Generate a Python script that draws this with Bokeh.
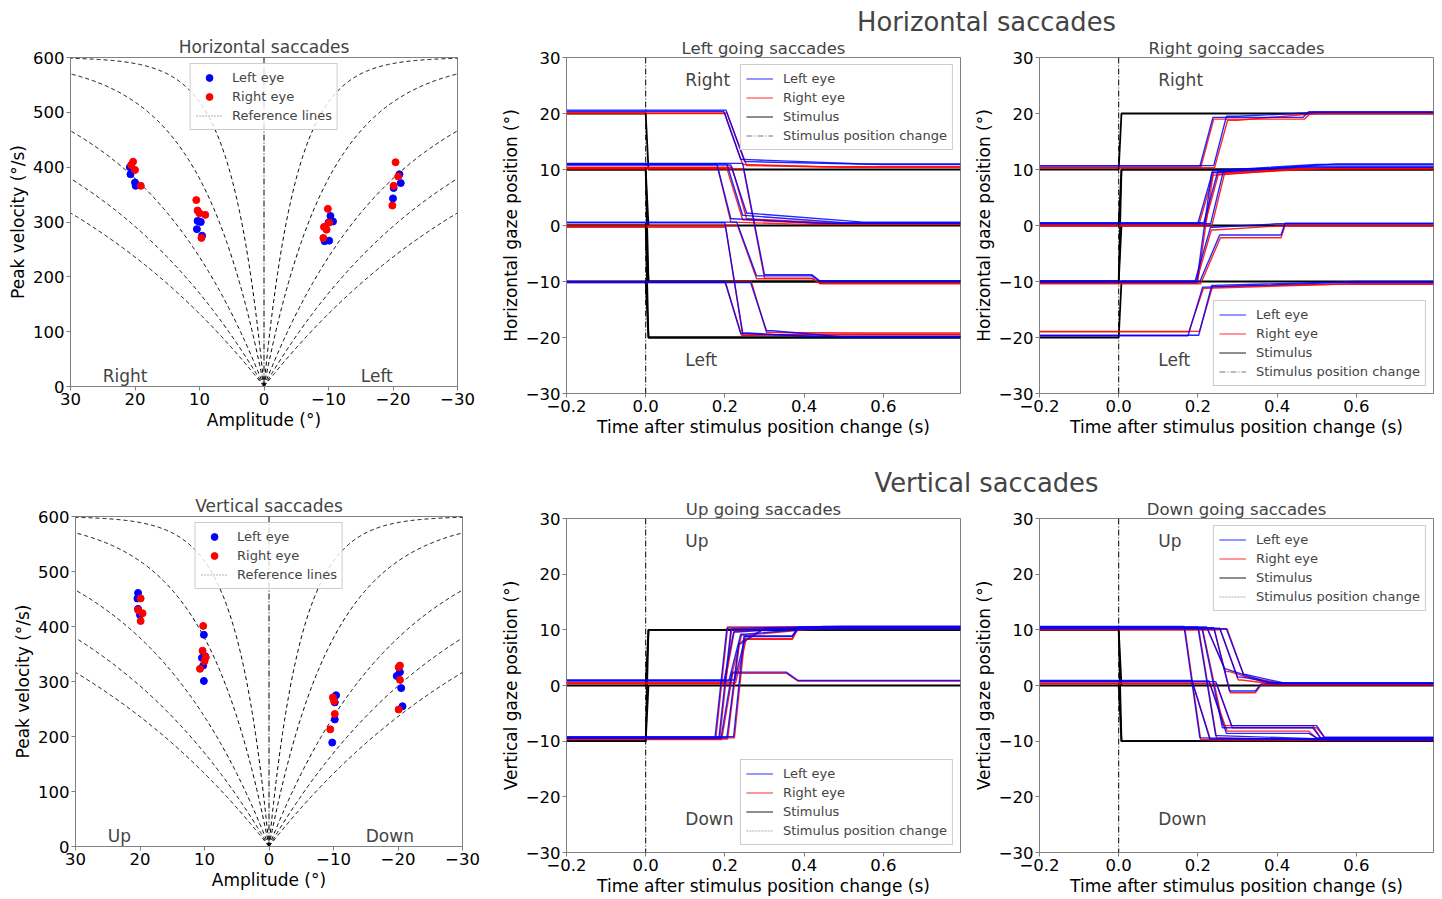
import numpy as np
from bokeh.plotting import figure
from bokeh.layouts import row, column
from bokeh.models import (Range1d, Span, Label, Legend, LegendItem, FixedTicker,
                          CustomJSTickFormatter)
from bokeh.embed import file_html
from bokeh.resources import INLINE

# ---------------------------------------------------------------- data
AMP_TICKS = [30, 20, 10, 0, -10, -20, -30]
VEL_TICKS = [0, 100, 200, 300, 400, 500, 600]
TIME_TICKS = [-0.2, 0.0, 0.2, 0.4, 0.6]
POS_TICKS = [-30, -20, -10, 0, 10, 20, 30]
T_START, T_END = -0.2, 0.795
STIM_CHANGE_T = 0.0
STIM_DONE_T = 0.007

# main-sequence reference lines: Vmax * (1 - exp(-A / tau))
REF_VMAX = 600
REF_TAU = [5, 10, 20, 30, 40]

# Horizontal saccades: amplitude (deg) / peak velocity (deg/s)
H_LEFT_EYE_AMP = [20.8, 20.7, 20.0, 19.9, 10.3, 10.0, 9.6, 10.4, 9.8,
                  -10.3, -10.7, -10.0, -9.4, -10.1, -20.1, -20.0, -21.0, -21.2]
H_LEFT_EYE_VEL = [400, 387, 372, 366, 302, 301, 275, 287, 300,
                  311, 301, 299, 265, 266, 362, 343, 387, 371]
H_RIGHT_EYE_AMP = [20.3, 20.6, 20.0, 19.1, 10.5, 10.3, 10.0, 9.1, 9.7,
                   -9.9, -9.3, -9.7, -10.1, -9.2, -20.4, -20.1, -19.9, -20.8]
H_RIGHT_EYE_VEL = [410, 404, 395, 366, 340, 321, 316, 313, 271,
                   324, 291, 286, 299, 271, 409, 366, 330, 383]

# Vertical saccades
V_LEFT_EYE_AMP = [20.3, 20.4, 20.0, 20.3, 10.1, 10.4, 10.2, 10.1, 9.9,
                  -10.4, -10.2, -10.2, -9.8, -19.8, -20.3, -20.5, -20.7]
V_LEFT_EYE_VEL = [461, 451, 421, 432, 385, 343, 329, 301, 346,
                  275, 262, 231, 189, 310, 317, 288, 255]
V_RIGHT_EYE_AMP = [20.3, 19.9, 19.6, 19.9, 10.2, 10.3, 10.7, 9.8, 10.0,
                   -9.9, -10.1, -10.2, -9.5, -20.1, -20.3, -20.3, -20.1]
V_RIGHT_EYE_VEL = [430, 451, 424, 410, 401, 356, 323, 344, 337,
                   271, 264, 241, 213, 326, 329, 303, 249]

# gaze traces, one tuple per trial:
# (start pos, onset t, landing t, landing pos, hold-until t, settled t, final pos)
LG_LEFT_EYE = [
    (20.4, 0.197, 0.240, 11.8, 0.245, 0.55, 11.0),
    (20.6, 0.203, 0.250, 11.4, 0.260, 0.60, 10.9),
    (10.9, 0.180, 0.215, 1.2, 0.220, 0.45, 0.4),
    (11.0, 0.205, 0.245, 1.8, 0.250, 0.50, 0.5),
    (10.8, 0.215, 0.255, 2.2, 0.260, 0.55, 0.6),
    (11.1, 0.245, 0.300, -8.8, 0.420, 0.44, -9.9),
    (0.5, 0.200, 0.245, -19.2, 0.260, 0.40, -19.8),
    (0.6, 0.230, 0.280, -9.0, 0.420, 0.44, -10.0),
    (-10.0, 0.200, 0.240, -19.3, 0.250, 0.45, -19.8),
    (-10.2, 0.265, 0.305, -18.8, 0.320, 0.50, -19.9),
]
LG_RIGHT_EYE = [
    (20.0, 0.200, 0.245, 10.9, 0.250, 0.45, 10.5),
    (20.1, 0.205, 0.255, 10.7, 0.260, 0.50, 10.4),
    (10.3, 0.182, 0.215, 0.6, 0.220, 0.40, 0.2),
    (10.2, 0.205, 0.245, 1.0, 0.250, 0.45, 0.3),
    (10.4, 0.218, 0.255, 1.2, 0.260, 0.50, 0.3),
    (10.1, 0.247, 0.300, -9.4, 0.420, 0.44, -10.3),
    (-0.3, 0.202, 0.245, -19.6, 0.260, 0.40, -19.4),
    (0.0, 0.232, 0.280, -9.5, 0.420, 0.44, -10.4),
    (-10.2, 0.202, 0.242, -19.6, 0.250, 0.45, -19.5),
    (-10.1, 0.267, 0.305, -19.1, 0.320, 0.55, -19.2),
]
LG_STIM = [(20, 10), (10, 0), (0, -10), (-10, -20), (10, -10), (0, -20)]

RG_LEFT_EYE = [
    (10.6, 0.205, 0.238, 19.3, 0.465, 0.48, 20.3),
    (10.7, 0.240, 0.272, 19.5, 0.300, 0.50, 20.2),
    (0.4, 0.200, 0.238, 9.8, 0.240, 0.50, 10.9),
    (0.5, 0.215, 0.250, 9.6, 0.260, 0.55, 11.0),
    (0.3, 0.232, 0.265, 9.9, 0.270, 0.50, 10.6),
    (-9.9, 0.193, 0.232, -0.3, 0.240, 0.40, 0.3),
    (-10.0, 0.205, 0.255, -1.7, 0.410, 0.42, 0.4),
    (-10.1, 0.197, 0.235, 9.5, 0.240, 0.45, 10.4),
    (-19.7, 0.175, 0.212, -11.0, 0.220, 0.55, -10.2),
    (-19.6, 0.202, 0.235, -10.7, 0.240, 0.60, -10.0),
]
RG_RIGHT_EYE = [
    (10.3, 0.207, 0.240, 19.0, 0.470, 0.485, 20.1),
    (10.3, 0.242, 0.275, 18.8, 0.300, 0.50, 20.0),
    (0.0, 0.202, 0.240, 9.4, 0.250, 0.50, 10.2),
    (0.1, 0.217, 0.252, 9.2, 0.260, 0.55, 10.3),
    (-0.1, 0.235, 0.268, 9.5, 0.280, 0.50, 10.2),
    (-10.3, 0.195, 0.234, -0.8, 0.240, 0.40, -0.1),
    (-10.4, 0.207, 0.257, -2.2, 0.410, 0.42, 0.0),
    (-10.3, 0.199, 0.238, 9.0, 0.250, 0.45, 10.1),
    (-19.0, 0.177, 0.214, -11.2, 0.220, 0.55, -10.5),
    (-18.9, 0.204, 0.237, -10.9, 0.240, 0.60, -10.4),
]
RG_STIM = [(-20, -10), (-10, 0), (0, 10), (10, 20), (-10, 10)]

UG_LEFT_EYE = [
    (-9.4, 0.175, 0.205, 10.3, 0.210, 0.50, 10.6),
    (-9.3, 0.185, 0.215, 10.0, 0.220, 0.50, 10.5),
    (-9.5, 0.190, 0.218, 2.4, 0.355, 0.385, 0.9),
    (-9.4, 0.205, 0.235, 7.5, 0.240, 0.30, 10.2),
    (-9.2, 0.222, 0.248, 8.8, 0.370, 0.385, 10.3),
    (0.9, 0.198, 0.222, 9.6, 0.230, 0.45, 10.6),
    (0.8, 0.210, 0.240, 9.2, 0.250, 0.45, 10.4),
    (1.0, 0.225, 0.252, 8.9, 0.370, 0.385, 10.5),
]
UG_RIGHT_EYE = [
    (-9.6, 0.177, 0.207, 10.5, 0.210, 0.50, 10.6),
    (-9.5, 0.187, 0.217, 10.2, 0.220, 0.50, 10.4),
    (-9.7, 0.192, 0.220, 2.2, 0.355, 0.385, 0.8),
    (-9.6, 0.207, 0.237, 7.8, 0.240, 0.30, 10.3),
    (-9.4, 0.224, 0.250, 8.3, 0.370, 0.385, 10.2),
    (0.4, 0.200, 0.224, 9.8, 0.230, 0.45, 10.5),
    (0.3, 0.212, 0.242, 9.0, 0.250, 0.45, 10.3),
    (0.5, 0.227, 0.254, 8.4, 0.370, 0.385, 10.4),
]
UG_STIM = [(-10, 10), (0, 10), (-10, 0)]

DG_LEFT_EYE = [
    (10.6, 0.165, 0.205, -9.4, 0.210, 0.55, -9.8),
    (10.5, 0.200, 0.245, -9.0, 0.250, 0.55, -9.7),
    (10.4, 0.210, 0.262, -7.6, 0.490, 0.51, -9.4),
    (10.5, 0.222, 0.268, 3.0, 0.270, 0.38, 0.5),
    (10.3, 0.255, 0.300, 1.5, 0.310, 0.40, 0.4),
    (10.2, 0.272, 0.315, 2.0, 0.320, 0.42, 0.4),
    (0.9, 0.185, 0.230, -9.6, 0.240, 0.50, -9.6),
    (0.8, 0.228, 0.272, -8.6, 0.480, 0.50, -9.4),
    (0.7, 0.245, 0.285, -7.2, 0.500, 0.52, -9.3),
    (10.4, 0.240, 0.280, -1.0, 0.345, 0.36, 0.3),
]
DG_RIGHT_EYE = [
    (10.3, 0.167, 0.207, -9.7, 0.210, 0.55, -9.9),
    (10.2, 0.202, 0.247, -9.4, 0.250, 0.55, -9.8),
    (10.1, 0.212, 0.264, -7.2, 0.490, 0.51, -9.5),
    (10.2, 0.224, 0.270, 2.5, 0.280, 0.38, 0.3),
    (10.0, 0.257, 0.302, 1.0, 0.310, 0.40, 0.2),
    (10.1, 0.274, 0.317, 1.6, 0.320, 0.42, 0.3),
    (0.4, 0.187, 0.232, -9.8, 0.240, 0.50, -9.7),
    (0.4, 0.230, 0.274, -8.2, 0.480, 0.50, -9.5),
    (0.3, 0.247, 0.287, -7.6, 0.500, 0.52, -9.4),
    (10.0, 0.242, 0.282, -1.3, 0.345, 0.36, 0.1),
]
DG_STIM = [(10, -10), (10, 0), (0, -10)]

# direction words: (x, y) in data units
MS_WORD_Y = 20
TP_WORD_X, TP_WORD_Y_TOP, TP_WORD_Y_BOT = 0.1, 26, -24

# ---------------------------------------------------------------- style
FONT = "DejaVu Sans"
FS = "16.5px"
LABEL_FS = "17px"
LEG_FS = "13px"
SPINE = "#808080"
BLUE = "#0000ff"
RED = "#ff0000"
NOTHING = np.array([np.nan])   # legend-only renderers draw nothing


def fmt(decimals):
    return CustomJSTickFormatter(
        code="return tick.toFixed(%d).replace('-', '\u2212');" % decimals)


def style(p, xticks, yticks, xdec, ydec, xlabel, ylabel):
    p.xaxis.ticker = FixedTicker(ticks=xticks)
    p.yaxis.ticker = FixedTicker(ticks=yticks)
    p.xaxis.formatter = fmt(xdec)
    p.yaxis.formatter = fmt(ydec)
    p.xaxis.axis_label = xlabel
    p.yaxis.axis_label = ylabel
    for ax in (p.xaxis[0], p.yaxis[0]):
        ax.axis_line_color = SPINE
        ax.major_tick_line_color = SPINE
        ax.minor_tick_line_color = None
        ax.major_tick_out = 4
        ax.major_tick_in = 0
        ax.major_label_text_font = FONT
        ax.major_label_text_font_size = FS
        ax.major_label_text_color = "black"
        ax.major_label_standoff = 2
        ax.axis_label_text_font = FONT
        ax.axis_label_text_font_size = LABEL_FS
        ax.axis_label_text_font_style = "normal"
        ax.axis_label_text_color = "black"
        ax.axis_label_standoff = 2
    p.outline_line_color = SPINE
    p.outline_line_alpha = 1
    p.xgrid.visible = False
    p.ygrid.visible = False
    p.title.text_font = FONT
    p.title.text_font_size = FS
    p.title.text_font_style = "normal"
    p.title.align = "center"
    p.title.standoff = 0


def make_legend(items, location):
    return Legend(items=items, location=location, margin=7, padding=5,
                  spacing=2, glyph_width=27, glyph_height=17, label_height=17,
                  label_standoff=10, label_text_font=FONT,
                  label_text_font_size=LEG_FS, border_line_color="#cccccc",
                  border_line_alpha=1, background_fill_alpha=0.8)


def word(x, y, txt):
    return Label(x=x, y=y, text=txt, text_align="left", text_baseline="middle",
                 text_font=FONT, text_font_size=LABEL_FS)


def trial_line(tr):
    y0, t_on, t_land, y_land, t_hold, t_settle, y_fin = tr
    return ([T_START, t_on, t_land, t_hold, t_settle, T_END],
            [y0, y0, y_land, y_land, y_fin, y_fin])


def stim_line(pair):
    before, after = pair
    return ([T_START, STIM_CHANGE_T, STIM_DONE_T, T_END],
            [before, before, after, after])


def main_sequence(title, l_amp, l_vel, r_amp, r_vel, words, borders, fh):
    bl, br, bt, bb = borders
    p = figure(frame_width=387, frame_height=fh, min_border_left=bl,
               min_border_right=br, min_border_top=bt, min_border_bottom=bb,
               x_range=Range1d(30, -30), y_range=Range1d(0, 600),
               output_backend="svg", toolbar_location=None, title=title)
    style(p, AMP_TICKS, VEL_TICKS, 0, 0, "Amplitude (\u00b0)", "Peak velocity (\u00b0/s)")
    p.title.text_font_size = LABEL_FS
    p.title.standoff = 2
    amp = np.linspace(0, 30, 301)
    for tau in REF_TAU:
        vel = REF_VMAX * (1 - np.exp(-amp / tau))
        for sign in (1, -1):
            p.line(sign * amp, vel, line_color="black", line_width=1,
                   line_dash="4 3")
    p.add_layout(Span(location=0, dimension="height", line_color="black",
                      line_width=1, line_dash="6 2 1 2"))
    p.scatter(l_amp, l_vel, size=7, color=BLUE)
    p.scatter(r_amp, r_vel, size=7, color=RED)
    leg_l = p.scatter(NOTHING, NOTHING, size=4, color=BLUE)
    leg_r = p.scatter(NOTHING, NOTHING, size=4, color=RED)
    leg_ref = p.line(NOTHING, NOTHING, line_color="#b0b0b0", line_width=1,
                     line_dash="2 1")
    legend = make_legend([LegendItem(label="Left eye", renderers=[leg_l]),
                          LegendItem(label="Right eye", renderers=[leg_r]),
                          LegendItem(label="Reference lines", renderers=[leg_ref])],
                         "top_center")
    legend.margin = 6
    p.add_layout(legend)
    for x, txt in words:
        p.add_layout(word(x, MS_WORD_Y, txt))
    return p


def time_panel(title, ylabel, left_eye, right_eye, stims, top_word, bot_word,
               loc, change_style, borders, fh):
    bl, br, bt, bb = borders
    p = figure(frame_width=394, frame_height=fh, min_border_left=bl,
               min_border_right=br, min_border_top=bt, min_border_bottom=bb,
               x_range=Range1d(T_START, T_END), y_range=Range1d(-30, 30),
               output_backend="svg", toolbar_location=None, title=title)
    style(p, TIME_TICKS, POS_TICKS, 1, 0,
          "Time after stimulus position change (s)", ylabel)
    sx, sy = zip(*[stim_line(s) for s in stims])
    p.multi_line(list(sx), list(sy), line_color="black", line_width=1.8)
    p.add_layout(Span(location=STIM_CHANGE_T, dimension="height",
                      line_color="black", line_width=1, line_dash="6 2 1 2"))
    rx, ry = zip(*[trial_line(t) for t in right_eye])
    p.multi_line(list(rx), list(ry), line_color=RED, line_width=1.4, line_alpha=0.85)
    lx, ly = zip(*[trial_line(t) for t in left_eye])
    p.multi_line(list(lx), list(ly), line_color=BLUE, line_width=1.4, line_alpha=0.85)

    g_l = p.line(NOTHING, NOTHING, line_color=BLUE, line_width=1.5, line_alpha=0.55)
    g_r = p.line(NOTHING, NOTHING, line_color=RED, line_width=1.5, line_alpha=0.55)
    g_s = p.line(NOTHING, NOTHING, line_color="black", line_width=1.5, line_alpha=0.6)
    g_c = p.line(NOTHING, NOTHING, **change_style)
    p.add_layout(make_legend([LegendItem(label="Left eye", renderers=[g_l]),
                              LegendItem(label="Right eye", renderers=[g_r]),
                              LegendItem(label="Stimulus", renderers=[g_s]),
                              LegendItem(label="Stimulus position change",
                                         renderers=[g_c])], loc))
    p.add_layout(word(TP_WORD_X, TP_WORD_Y_TOP, top_word))
    p.add_layout(word(TP_WORD_X, TP_WORD_Y_BOT, bot_word))
    return p


HEAD_W, HEAD_H = 950, 36


def heading(text):
    p = figure(width=HEAD_W, height=HEAD_H, x_range=Range1d(0, HEAD_W),
               y_range=Range1d(0, HEAD_H), x_axis_location=None,
               y_axis_location=None, min_border=0, output_backend="svg",
               toolbar_location=None)
    p.outline_line_color = None
    p.xgrid.visible = False
    p.ygrid.visible = False
    p.add_layout(Label(x=496, y=15, text=text, text_align="center",
                       text_baseline="middle", text_font=FONT,
                       text_font_size="25.8px"))
    return p


DASHDOT = dict(line_color="#555555", line_width=1, line_alpha=0.8, line_dash="6 2 1 2")
DOTTED = dict(line_color="#999999", line_width=1, line_alpha=0.8, line_dash="2 1")

# ---------------------------------------------------------------- panels
p1 = main_sequence("Horizontal saccades", H_LEFT_EYE_AMP, H_LEFT_EYE_VEL,
                   H_RIGHT_EYE_AMP, H_RIGHT_EYE_VEL,
                   [(25, "Right"), (-15, "Left")], (70, 33, 57, 75), 329)
p2 = time_panel("Left going saccades", "Horizontal gaze position (\u00b0)",
                LG_LEFT_EYE, LG_RIGHT_EYE, LG_STIM, "Right", "Left",
                "top_right", DASHDOT, (76, 5, 21, 68), 336)
p3 = time_panel("Right going saccades", "Horizontal gaze position (\u00b0)",
                RG_LEFT_EYE, RG_RIGHT_EYE, RG_STIM, "Right", "Left",
                "bottom_right", DASHDOT, (74, 7, 21, 68), 336)
p4 = main_sequence("Vertical saccades", V_LEFT_EYE_AMP, V_LEFT_EYE_VEL,
                   V_RIGHT_EYE_AMP, V_RIGHT_EYE_VEL,
                   [(25, "Up"), (-15, "Down")], (75, 28, 55, 50), 330)
p5 = time_panel("Up going saccades", "Vertical gaze position (\u00b0)",
                UG_LEFT_EYE, UG_RIGHT_EYE, UG_STIM, "Up", "Down",
                "bottom_right", DOTTED, (76, 5, 21, 45), 334)
p6 = time_panel("Down going saccades", "Vertical gaze position (\u00b0)",
                DG_LEFT_EYE, DG_RIGHT_EYE, DG_STIM, "Up", "Down",
                "top_right", DOTTED, (74, 7, 21, 45), 334)

t1 = heading("Horizontal saccades")
t2 = heading("Vertical saccades")

layout = column(row(p1, column(t1, row(p2, p3))),
                row(p4, column(t2, row(p5, p6))))

open("out.html", "w").write(file_html(layout, INLINE, title="Saccades"))
